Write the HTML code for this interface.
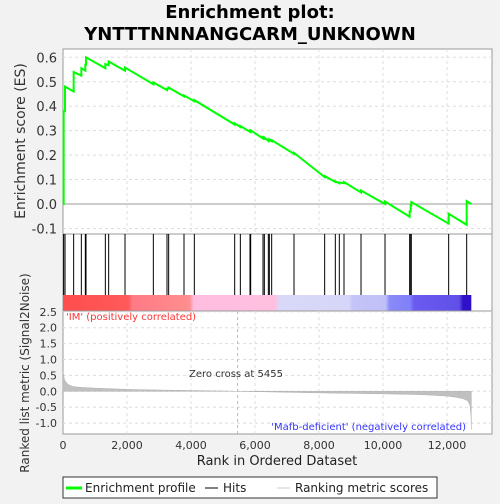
<!DOCTYPE html>
<html><head><meta charset="utf-8"><style>
body{margin:0;background:#f2f2f2;width:500px;height:500px;overflow:hidden;font-family:"DejaVu Sans","Liberation Sans",sans-serif}
</style></head><body>
<svg id="chart" width="500" height="500" xmlns="http://www.w3.org/2000/svg" font-family="DejaVu Sans, Liberation Sans, sans-serif">
<rect width="500" height="500" fill="#f2f2f2"/>
<text x="250" y="18" text-anchor="middle" font-size="18" font-weight="bold">Enrichment plot:</text>
<text x="250" y="40" text-anchor="middle" font-size="18" font-weight="bold">YNTTTNNNANGCARM_UNKNOWN</text>
<g id="topPanel"></g>
<g id="hitsPanel"></g>
<g id="bottomPanel"></g>
<g id="axesGroup"></g>
</svg>
<script>
// data
const hitRanks=[20,63,333,573,698,719,1323,1427,1938,2823,3250,3302,3781,4104,5365,5542,5844,5865,6250,6292,6417,6448,6521,7219,8177,8510,8635,8781,9313,10063,10833,10865,10885,12052,12615];
const esBefore=[0,0.38,0.46,0.525,0.545,0.57,0.555,0.568,0.545,0.49,0.466,0.472,0.44,0.42,0.325,0.315,0.295,0.297,0.268,0.268,0.258,0.26,0.257,0.205,0.11,0.09,0.085,0.085,0.047,0.0,-0.052,-0.03,-0.005,-0.08,-0.085];
const esAfter=[0.38,0.48,0.54,0.555,0.57,0.60,0.572,0.583,0.558,0.497,0.472,0.476,0.444,0.425,0.33,0.319,0.299,0.301,0.272,0.272,0.262,0.264,0.261,0.209,0.114,0.093,0.088,0.09,0.055,0.01,-0.03,-0.005,0.008,-0.04,0.012];
const endRank=12760, endES=0.0;
const metricRanks=[0,50,150,300,600,1000,2000,3000,4000,5000,5455,6000,7000,8000,9000,10000,11000,11500,12000,12300,12500,12650,12720,12750,12760];
const metricVals=[0.62,0.35,0.22,0.15,0.12,0.1,0.06,0.04,0.025,0.01,0,-0.01,-0.03,-0.05,-0.065,-0.08,-0.1,-0.12,-0.15,-0.19,-0.23,-0.3,-0.45,-0.8,-1.2];
const xTicks=[0,2000,4000,6000,8000,10000,12000];
const esTicks=[-0.1,0,0.1,0.2,0.3,0.4,0.5,0.6];
const mTicks=[-1.0,-0.5,0.0,0.5,1.0,1.5,2.0,2.5];

const NS="http://www.w3.org/2000/svg";
const L=63,R=492;
const X=r=>L+r*0.032;
const ESY=v=>204-v*244.5;
const MY=v=>391.3-v*31.8;
function mk(tag,attrs,parent){const e=document.createElementNS(NS,tag);for(const k in attrs)e.setAttribute(k,attrs[k]);parent.appendChild(e);return e;}
const topG=document.getElementById('topPanel'),hitsG=document.getElementById('hitsPanel'),botG=document.getElementById('bottomPanel'),axG=document.getElementById('axesGroup');

// panels
let p=mk('rect',{x:L,y:49,width:R-L,height:185,fill:'#fff',stroke:'#999'},topG);

p=mk('rect',{x:L,y:234,width:R-L,height:77,fill:'#fff',stroke:'#999'},hitsG);

p=mk('rect',{x:L,y:311,width:R-L,height:123,fill:'#fff',stroke:'#999'},botG);


// grid
xTicks.forEach(t=>{
  if(t>0){let g=mk('line',{x1:X(t),x2:X(t),y1:49,y2:234,stroke:'#ddd','stroke-dasharray':'3,3'},topG);
  g=mk('line',{x1:X(t),x2:X(t),y1:311,y2:434,stroke:'#ddd','stroke-dasharray':'3,3'},botG);}
  let tx=mk('text',{x:X(t),y:449,'text-anchor':'middle','font-size':'11',fill:'#333'},axG);tx.textContent=t.toLocaleString('en-US');
  
});
esTicks.forEach(t=>{
  let g=mk('line',{x1:L,x2:R,y1:ESY(t),y2:ESY(t),stroke:t===0?'#999':'#ddd','stroke-dasharray':t===0?'':'3,3'},topG);
  
  let tx=mk('text',{x:57,y:ESY(t)+5,'text-anchor':'end','font-size':'13',fill:'#333'},axG);tx.textContent=t.toFixed(1);
  
});
mTicks.forEach(t=>{
  let g=mk('line',{x1:L,x2:R,y1:MY(t),y2:MY(t),stroke:'#ddd','stroke-dasharray':'3,3'},botG);
  
  let tx=mk('text',{x:57,y:MY(t)+4,'text-anchor':'end','font-size':'11',fill:'#333'},axG);tx.textContent=t.toFixed(1);
  
});

// ES line
let pts=[[0,0]];
hitRanks.forEach((r,i)=>{pts.push([r,esBefore[i]]);pts.push([r,esAfter[i]]);});
pts.push([endRank,endES]);
let es=mk('polyline',{points:pts.map(q=>X(q[0])+','+ESY(q[1])).join(' '),fill:'none',stroke:'#00ff00','stroke-width':2},topG);


// hits
hitRanks.forEach(r=>{
  let l=mk('line',{x1:X(r),x2:X(r),y1:234,y2:295,stroke:'#000','stroke-width':1},hitsG);
  
});
// color bar
const defs=mk('defs',{},hitsG);
const gr=mk('linearGradient',{id:'cb',x1:0,x2:1,y1:0,y2:0},defs);
[[0,'#ff4d4d'],[0.16,'#ff5a5a'],[0.17,'#ff7a85'],[0.31,'#ff8e8e'],[0.32,'#ffbde0'],[0.52,'#ffc0e0'],[0.53,'#d8d8f8'],[0.7,'#d6d6f8'],[0.71,'#c4c4f8'],[0.79,'#c0c0f8'],[0.8,'#8a8af8'],[0.85,'#8080f8'],[0.86,'#6a5af0'],[0.97,'#6050e8'],[0.98,'#3010c8'],[1,'#3010c8']].forEach(s=>mk('stop',{offset:s[0],'stop-color':s[1]},gr));
let cb=mk('rect',{x:L,y:295,width:X(endRank)-L,height:16,fill:'url(#cb)'},hitsG);


// metric area
let mp='M'+X(metricRanks[0])+','+MY(0);
metricRanks.forEach((r,i)=>{mp+=' L'+X(r)+','+MY(metricVals[i]);});
mp+=' L'+X(endRank)+','+MY(0)+' Z';
let ma=mk('path',{d:mp,fill:'#c0c0c0',stroke:'#b0b0b0','stroke-width':0.5},botG);

let zl=mk('line',{x1:X(5455),x2:X(5455),y1:311,y2:434,stroke:'#bbb','stroke-dasharray':'3,3'},botG);

</script>
<svg style="position:absolute;left:0;top:0" width="500" height="500" xmlns="http://www.w3.org/2000/svg" font-family="DejaVu Sans, Liberation Sans, sans-serif">
<text x="66" y="320" font-size="10" fill="#ff3333">'IM' (positively correlated)</text>
<text x="189" y="377" font-size="10" fill="#333">Zero cross at 5455</text>
<text x="466" y="430" text-anchor="end" font-size="10" fill="#3333ff">'Mafb-deficient' (negatively correlated)</text>
<text x="277" y="465" text-anchor="middle" font-size="13" fill="#222">Rank in Ordered Dataset</text>
<text transform="translate(25,141) rotate(-90)" text-anchor="middle" font-size="14" fill="#333">Enrichment score (ES)</text>
<text transform="translate(29,373) rotate(-90)" text-anchor="middle" font-size="12" fill="#333">Ranked list metric (Signal2Noise)</text>
<g>
<rect x="63" y="477" width="374" height="21" fill="#fff" stroke="#333"/>
<line x1="66" y1="488" x2="82" y2="488" stroke="#00ff00" stroke-width="3"/>
<text x="85" y="492" font-size="12" fill="#222">Enrichment profile</text>
<line x1="205" y1="488" x2="218" y2="488" stroke="#000"/>
<text x="223" y="492" font-size="12" fill="#222">Hits</text>
<line x1="277" y1="488" x2="290" y2="488" stroke="#ccc"/>
<text x="295" y="492" font-size="12" fill="#222">Ranking metric scores</text>
</g>
</svg>
</body></html>
